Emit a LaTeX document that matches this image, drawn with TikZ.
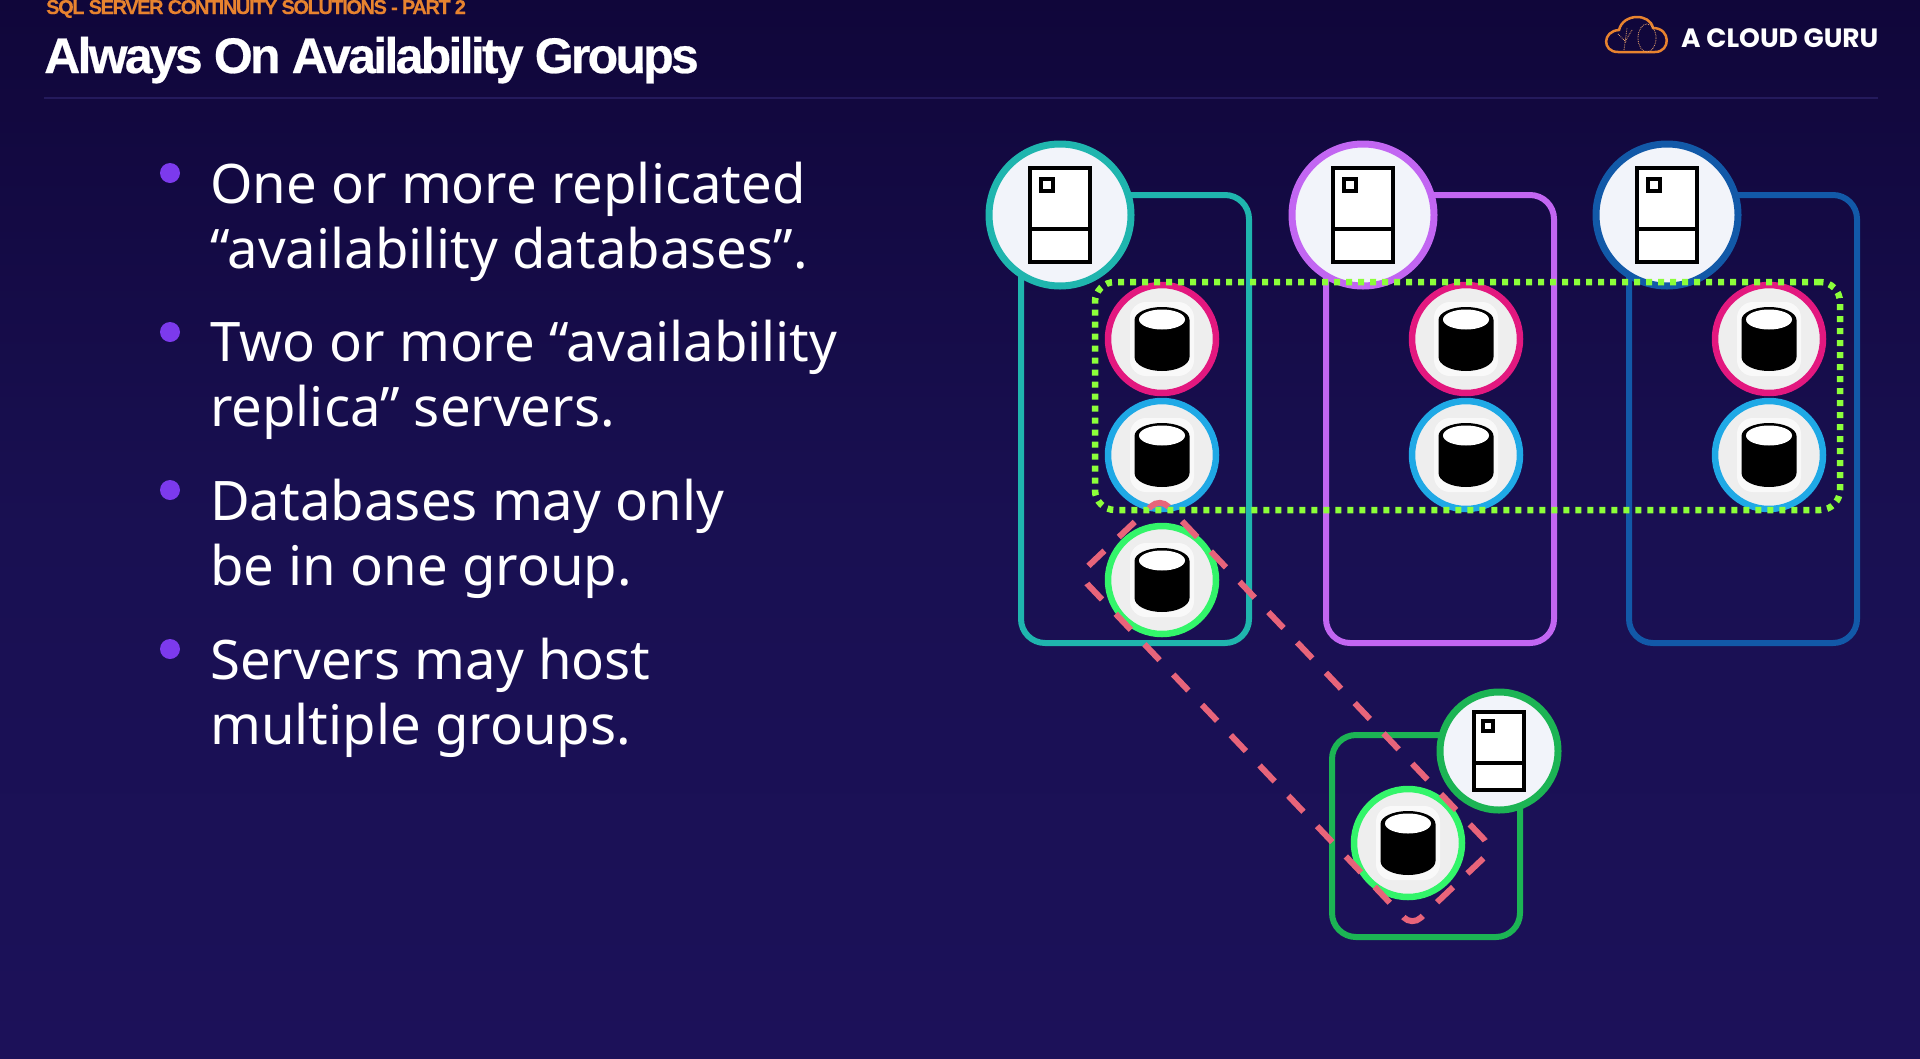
\documentclass[tikz,border=0pt]{standalone}
\usepackage{fontspec}
\setmainfont{Noto Sans}
\newfontfamily\titlefont[BoldFeatures={FakeBold=0.5,LetterSpace=-5.5}]{Liberation Sans}
\newfontfamily\subfont[BoldFeatures={FakeBold=0.3,LetterSpace=-7}]{Liberation Sans}
\newfontfamily\logofont{Poppins}
\usetikzlibrary{positioning,shapes.geometric}
\definecolor{bgtop}{HTML}{10063A}
\definecolor{bgmid}{HTML}{191052}
\definecolor{bgbot}{HTML}{1C1159}
\definecolor{ruleline}{HTML}{241A5C}
\definecolor{subcol}{HTML}{E8832F}
\definecolor{dotcol}{HTML}{7C3AED}
\definecolor{srvfill}{HTML}{F2F4FA}
\definecolor{dbfill}{HTML}{EEEEEE}
\definecolor{halo}{HTML}{F9F9F9}
\definecolor{srvteal}{HTML}{1FB5AE}
\definecolor{srvpurple}{HTML}{C266F2}
\definecolor{srvblue}{HTML}{1259A8}
\definecolor{srvgreen}{HTML}{1CB454}
\definecolor{dbpink}{HTML}{E3187F}
\definecolor{dbblue}{HTML}{1FA9E6}
\definecolor{dbgreen}{HTML}{33F56A}
\definecolor{lime}{HTML}{8CFF3A}
\definecolor{salmon}{HTML}{E8647A}
\tikzset{
    grpbox/.style={draw=#1,line width=6pt,rounded corners=24pt,minimum width=228pt,minimum height=448pt},
    srvring/.style={circle,draw=#1,line width=7pt,fill=srvfill,minimum size=142pt},
    dbring/.style={circle,draw=#1,line width=6.5pt,fill=dbfill,minimum size=108pt},
    bulletdot/.style={circle,fill=dotcol,minimum size=20pt,inner sep=0pt},
    bullettext/.style={anchor=west,align=left,text=white,inner sep=0pt,font=\fontsize{54.5}{65}\selectfont},
    pics/srvicon/.style={code={
        \draw[black,line width=4pt,fill=white] (-30,-47) rectangle (30,47);
        \draw[black,line width=4pt] (-30,14) -- (30,14);
        \draw[black,line width=3.5pt] (-19,-36) rectangle (-7,-24);
    }},
    pics/dbicon/.style={code={
        \fill[halo,rounded corners=16pt] (-32,-37) rectangle (32,37);
        \fill[black] (-27.5,-19) arc[start angle=180,end angle=360,x radius=27.5,y radius=13] -- (27.5,18)
            arc[start angle=0,end angle=180,x radius=27.5,y radius=14] -- cycle;
        \fill[white] (0,-19.5) ellipse[x radius=23,y radius=10];
    }}
}
\begin{document}
\begin{tikzpicture}[x=1pt,y=-1pt]
\useasboundingbox (0,0) rectangle (1920,1058);
\shade[top color=bgtop,bottom color=bgbot,middle color=bgmid,shading angle=0] (0,0) rectangle (1920,1058);
% header
\node[anchor=base west,inner sep=0pt,text=subcol,font=\subfont\bfseries\fontsize{20}{20}\selectfont] (subtitle) at (46,14) {SQL SERVER CONTINUITY SOLUTIONS - PART 2};
\node[anchor=base west,inner sep=0pt,text=white,font=\titlefont\bfseries\fontsize{50}{50}\selectfont] (title) at (44,73) {Always On Availability Groups};
\draw[ruleline,line width=1.5pt] (44,98) -- (1878,98);
\node[anchor=base west,inner sep=0pt,text=white,font=\logofont\bfseries\fontsize{26.5}{26.5}\selectfont] (logo) at (1681,47) {A CLOUD GURU};
\draw[subcol,line width=2.5pt] (1618,52) .. controls (1602,52) and (1602,31) .. (1619,30)
    .. controls (1623,13) and (1650,13) .. (1653,28) .. controls (1671,28) and (1671,52) .. (1655,52) -- cycle;
\draw[subcol!70!white,line width=.8pt,densely dotted] (1647,38) ellipse[x radius=9,y radius=14];
\draw[subcol!70!white,line width=.8pt,densely dotted] (1624,50) -- (1627,28) (1618,34) -- (1626,42) (1632,30) -- (1626,40);
% bullets
\node[bulletdot] (dot1) at (170,173) {};
\node[bulletdot] (dot2) at (170,332) {};
\node[bulletdot] (dot3) at (170,490) {};
\node[bulletdot] (dot4) at (170,649) {};
\node[bullettext] (text1) at (210,222) {One or more replicated\\“availability databases”.};
\node[bullettext] (text2) at (210,380) {Two or more “availability\\replica” servers.};
\node[bullettext] (text3) at (210,539) {Databases may only\\be in one group.};
\node[bullettext] (text4) at (210,698) {Servers may host\\multiple groups.};
% server boxes
\node[grpbox=srvteal] (box1) at (1135,419) {};
\node[grpbox=srvpurple] (box2) at (1440,419) {};
\node[grpbox=srvblue] (box3) at (1743,419) {};
\node[grpbox=srvgreen,minimum width=188pt,minimum height=202pt] (box4) at (1426,836) {};
% replicas
\node[dbring=dbpink] (dba1) at (1162,339) {};
\node[dbring=dbblue] (dbb1) at (1162,455) {};
\node[dbring=dbgreen] (dbc1) at (1162,580) {};
\node[dbring=dbpink] (dba2) at (1466,339) {};
\node[dbring=dbblue] (dbb2) at (1466,455) {};
\node[dbring=dbpink] (dba3) at (1769,339) {};
\node[dbring=dbblue] (dbb3) at (1769,455) {};
\node[dbring=dbgreen] (dbc4) at (1408,843) {};
\pic at (dba1) {dbicon};
\pic at (dbb1) {dbicon};
\pic at (dbc1) {dbicon};
\pic at (dba2) {dbicon};
\pic at (dbb2) {dbicon};
\pic at (dba3) {dbicon};
\pic at (dbb3) {dbicon};
\pic at (dbc4) {dbicon};
% servers
\node[srvring=srvteal] (srv1) at (1060,215) {};
\node[srvring=srvpurple] (srv2) at (1363,215) {};
\node[srvring=srvblue] (srv3) at (1667,215) {};
\node[srvring=srvgreen,minimum size=118pt] (srv4) at (1499,751) {};
\pic at (srv1) {srvicon};
\pic at (srv2) {srvicon};
\pic at (srv3) {srvicon};
\pic[scale=.83] at (srv4) {srvicon};
% groups
\node[draw=lime,line width=6.5pt,dash pattern=on 6pt off 6pt,rounded corners=20pt,minimum width=745pt,minimum height=228pt] (group1) at (1467.5,396) {};
\node[draw=salmon,line width=6pt,dash pattern=on 22pt off 19.8pt,rounded corners=12pt,minimum width=484pt,minimum height=112pt,rotate=-46.5] (group2) at (1286,712) {};
\end{tikzpicture}
\end{document}
